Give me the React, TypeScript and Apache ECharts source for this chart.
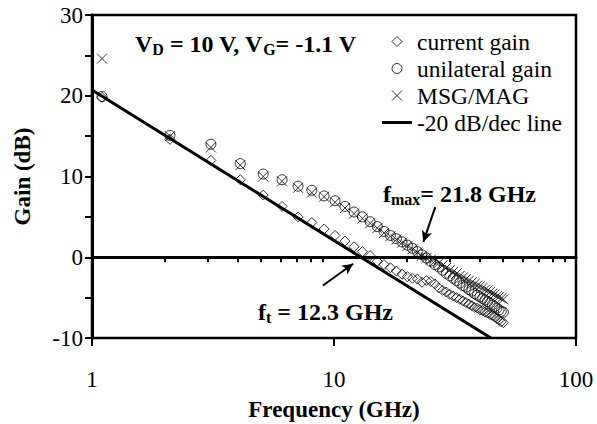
import React, { useEffect, useRef } from 'react';
import * as echarts from 'echarts';

const freq = [
  1.1, 2.1, 3.1, 4.1, 5.1, 6.1, 7.1, 8.1, 9.1, 10.1,
  11.1, 12.1, 13.1, 14.1, 15.1, 16.1, 17.1, 18.1, 19.1, 20.1,
  21.1, 22.1, 23.1, 24.1, 25.1, 26.1, 27.1, 28.1, 29.1, 30.1,
  31.1, 32.1, 33.1, 34.1, 35.1, 36.1, 37.1, 38.1, 39.1, 40.1,
  41.1, 42.1, 43.1, 44.1, 45.1, 46.1, 47.1, 48.1, 49.1, 50.1,
];
const currentGain = [
  19.8, 14.6, 12.0, 9.6, 7.7, 6.3, 5.0, 4.3, 3.5, 2.7,
  2.0, 1.3, 0.7, 0.2, -0.5, -0.9, -1.3, -1.7, -2.1, -2.4,
  -2.6, -2.7, -3.1, -2.9, -3.0, -3.3, -3.8, -4.1, -4.3, -4.6,
  -4.8, -5.0, -5.2, -5.4, -5.6, -5.8, -6.0, -6.2, -6.3, -6.5,
  -6.6, -6.8, -6.9, -7.1, -7.2, -7.4, -7.6, -7.8, -8.0, -8.1,
];
const unilateralGain = [
  19.9, 15.1, 14.0, 11.6, 10.3, 9.6, 8.8, 8.3, 7.6, 7.0,
  6.3, 5.6, 5.0, 4.4, 3.8, 3.2, 2.7, 2.3, 1.9, 1.5,
  1.1, 0.7, 0.3, -0.1, -0.5, -0.9, -1.2, -1.6, -2.0, -2.3,
  -2.6, -2.9, -3.2, -3.5, -3.7, -4.0, -4.2, -4.5, -4.7, -4.9,
  -5.1, -5.3, -5.5, -5.7, -5.9, -6.1, -6.3, -6.5, -6.7, -6.8,
];
const msgMag = [
  24.6, 15.0, 13.6, 11.4, 10.0, 9.4, 8.6, 8.0, 7.5, 6.8,
  6.1, 5.4, 4.8, 4.2, 3.6, 3.0, 2.6, 2.2, 1.8, 1.4,
  1.0, 0.6, 0.2, -0.1, -0.3, -0.5, -0.7, -1.0, -1.3, -1.6,
  -1.8, -2.0, -2.3, -2.5, -2.7, -2.9, -3.1, -3.3, -3.5, -3.6,
  -3.8, -4.0, -4.1, -4.3, -4.5, -4.6, -4.8, -4.9, -5.1, -5.2,
];
const refLineFreq = [1, 44.5];
const refLineGain = [20.7, -10];

const xLabelValues = [1, 10, 100];
const xMajorTicks = [1, 10, 100];
const xMinorTicks = [2, 3, 4, 5, 6, 7, 8, 9, 20, 30, 40, 50, 60, 70, 80, 90];

// arrow annotations [startFreq, startGain, endFreq, endGain]
const fmaxArrow = [26.2, 6.2, 23.4, 1.9];
const ftArrow = [9.0, -3.5, 12.0, -0.8];

const FONT = 'Liberation Serif';

export default function App() {
  const ref = useRef<HTMLDivElement>(null);

  useEffect(() => {
    document.body.style.margin = '0';
    if (!ref.current) return;
    const chart = echarts.init(ref.current, null, { renderer: 'svg' });

    const pair = (ys: number[]) => freq.map((f, i) => [f, ys[i]]);
    const refLine = refLineFreq.map((f, i) => [f, refLineGain[i]]);

    const markerStyle = { color: 'transparent', borderColor: '#000', borderWidth: 1 };
    const crossPath = 'path://M0,0L10,10M10,0L0,10';
    const diamondPath = 'path://M5,0L10,5L5,10L0,5Z';
    const circlePath = 'path://M0,5A5,5,0,1,1,10,5A5,5,0,1,1,0,5Z';
    const barPath = 'path://M0,0L30,0L30,3L0,3Z';

    const richStyles = {
      m: { fontFamily: FONT, fontSize: 24, fontWeight: 'bold', fill: '#000', lineHeight: 27 },
      s: { fontFamily: FONT, fontSize: 16, fontWeight: 'bold', fill: '#000', lineHeight: 27, verticalAlign: 'bottom' },
    };

    const option: any = {
      animation: false,
      backgroundColor: '#fff',
      textStyle: { fontFamily: FONT },
      grid: {
        left: 92,
        right: 21,
        top: 15,
        bottom: 86,
        show: true,
        borderColor: '#000',
        borderWidth: 2.5,
        backgroundColor: 'transparent',
        containLabel: false,
        outerBoundsMode: 'none',
      },
      legend: {
        orient: 'vertical',
        left: 377,
        top: 23,
        itemWidth: 30,
        itemHeight: 10,
        itemGap: 0,
        symbolKeepAspect: true,
        selectedMode: false,
        textStyle: { fontFamily: FONT, fontSize: 23.5, color: '#000', lineHeight: 27 },
        data: [
          { name: 'current gain', icon: diamondPath, itemStyle: markerStyle },
          { name: 'unilateral gain', icon: circlePath, itemStyle: markerStyle },
          { name: 'MSG/MAG', icon: crossPath, itemStyle: { color: 'none', borderColor: '#000', borderWidth: 1 } },
          { name: '-20 dB/dec line', icon: barPath, itemStyle: { color: '#000', borderWidth: 0 } },
        ],
      },
      xAxis: [
        {
          type: 'log',
          logBase: 10,
          min: 1,
          max: 100,
          position: 'bottom',
          axisLine: { show: true, lineStyle: { color: '#000', width: 3 } },
          axisTick: { show: true, length: 5, lineStyle: { color: '#000', width: 2 }, customValues: xMinorTicks },
          axisLabel: {
            show: true,
            color: '#000',
            fontFamily: FONT,
            fontSize: 23,
            margin: 30,
            customValues: xLabelValues,
            formatter: (v: number) => String(Math.round(v)),
          },
          splitLine: { show: false },
          minorTick: { show: false },
          name: 'Frequency (GHz)',
          nameLocation: 'middle',
          nameGap: 60,
          nameTextStyle: { fontFamily: FONT, fontSize: 23, fontWeight: 'bold', color: '#000' },
        },
        {
          type: 'log',
          logBase: 10,
          min: 1,
          max: 100,
          position: 'bottom',
          axisLine: { show: false },
          axisTick: { show: true, length: 8, lineStyle: { color: '#000', width: 2 }, customValues: xMajorTicks },
          axisLabel: { show: false },
          splitLine: { show: false },
        },
      ],
      yAxis: {
        type: 'value',
        min: -10,
        max: 30,
        interval: 5,
        axisLine: { show: true, lineStyle: { color: '#000', width: 3 } },
        axisTick: { show: true, length: 7, lineStyle: { color: '#000', width: 2 } },
        axisLabel: {
          color: '#000',
          fontFamily: FONT,
          fontSize: 23,
          margin: 9,
          padding: [5, 0, 0, 0],
          formatter: (v: number) => (v % 10 === 0 ? String(v) : ''),
        },
        splitLine: { show: false },
        name: 'Gain (dB)',
        nameLocation: 'middle',
        nameGap: 58,
        nameTextStyle: { fontFamily: FONT, fontSize: 23, fontWeight: 'bold', color: '#000' },
      },
      series: [
        {
          name: 'current gain',
          type: 'scatter',
          xAxisIndex: 0,
          symbol: 'diamond',
          symbolSize: 10,
          itemStyle: markerStyle,
          data: pair(currentGain),
          markLine: {
            silent: true,
            symbol: ['none', 'none'],
            label: { show: false },
            lineStyle: { color: '#000', width: 1.5, type: 'solid' },
            data: [{ yAxis: 0 }],
          },
        },
        {
          name: 'unilateral gain',
          type: 'scatter',
          xAxisIndex: 0,
          symbol: 'circle',
          symbolSize: 10,
          itemStyle: markerStyle,
          data: pair(unilateralGain),
        },
        {
          name: 'MSG/MAG',
          type: 'scatter',
          xAxisIndex: 0,
          symbol: crossPath,
          symbolSize: 10,
          itemStyle: { color: 'none', borderColor: '#000', borderWidth: 1 },
          data: pair(msgMag),
        },
        {
          name: '-20 dB/dec line',
          type: 'line',
          xAxisIndex: 0,
          symbol: 'none',
          showSymbol: false,
          lineStyle: { color: '#000', width: 3 },
          itemStyle: { color: '#000' },
          data: refLine,
          markLine: {
            silent: true,
            symbol: ['none', 'arrow'],
            symbolSize: [8, 11],
            label: { show: false },
            lineStyle: { color: '#000', width: 2, type: 'solid' },
            data: [
              [{ coord: [fmaxArrow[0], fmaxArrow[1]] }, { coord: [fmaxArrow[2], fmaxArrow[3]] }],
              [{ coord: [ftArrow[0], ftArrow[1]] }, { coord: [ftArrow[2], ftArrow[3]] }],
            ],
          },
        },
      ],
      graphic: [
        {
          type: 'text',
          x: 135,
          y: 44,
          style: {
            text: '{m|V}{s|D}{m| = 10 V, V}{s|G}{m|= -1.1 V}',
            verticalAlign: 'middle',
            rich: richStyles,
          },
        },
        {
          type: 'text',
          x: 383,
          y: 194,
          style: {
            text: '{m|f}{s|max}{m|= 21.8 GHz}',
            verticalAlign: 'middle',
            rich: richStyles,
          },
        },
        {
          type: 'text',
          x: 258,
          y: 312,
          style: {
            text: '{m|f}{s|t}{m| = 12.3 GHz}',
            verticalAlign: 'middle',
            rich: richStyles,
          },
        },
      ],
    };

    chart.setOption(option);
    return () => chart.dispose();
  }, []);

  return <div ref={ref} style={{ width: 597, height: 424, background: '#fff' }} />;
}
